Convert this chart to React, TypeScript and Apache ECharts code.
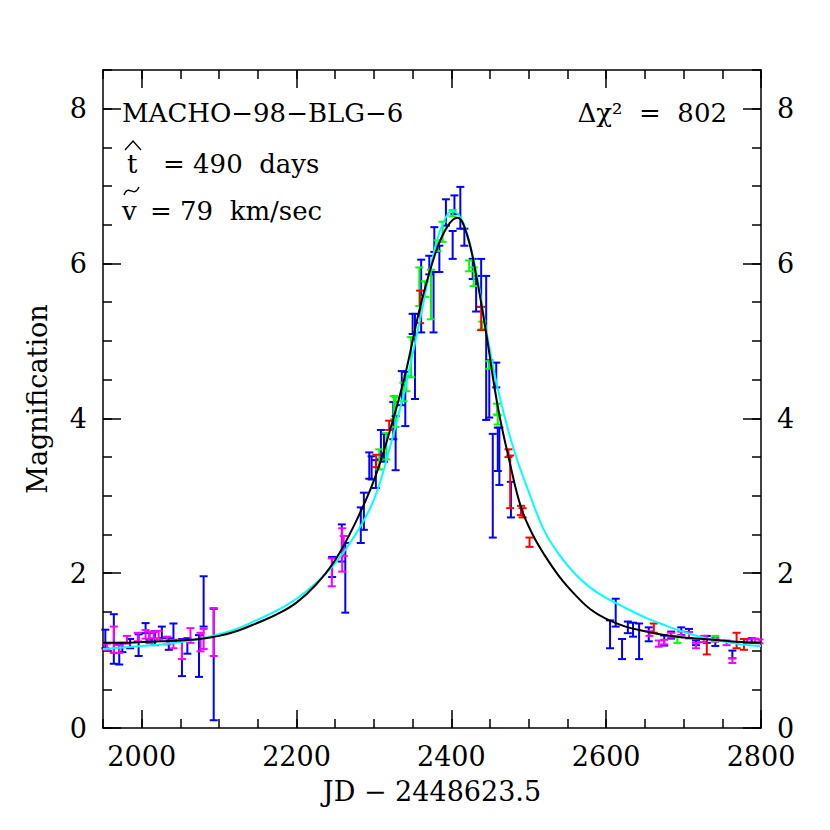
import React, { useEffect, useRef } from "react";
import * as echarts from "echarts";

const FONT = '"DejaVu Serif", serif';

const xMajorTicks = [2000, 2200, 2400, 2600, 2800];
const yMajorTicks = [0, 2, 4, 6, 8];

// [JD, magnification, error]
const blueBars = [
  [1953, 1.15, 0.12], [1964, 1.15, 0.32], [1971, 0.95, 0.13], [1975, 1.04, 0.06],
  [1985, 1.09, 0.06], [1996, 1.07, 0.14], [2005, 1.29, 0.065], [2010, 1.185, 0.045],
  [2017, 1.16, 0.09], [2026, 1.235, 0.075], [2035, 1.085, 0.075], [2041, 1.235, 0.115],
  [2052, 0.91, 0.24], [2059, 1.06, 0.1], [2074, 0.93, 0.27], [2080, 1.635, 0.325],
  [2093, 0.82, 0.72],
  [2246, 2.08, 0.13], [2258.5, 2.39, 0.24], [2263, 1.94, 0.45], [2283, 2.62, 0.23],
  [2287, 2.8, 0.24], [2294, 3.39, 0.17], [2297, 3.36, 0.15], [2302.5, 3.28, 0.18],
  [2309, 3.66, 0.19], [2313, 3.62, 0.18], [2325, 3.97, 0.24], [2328, 3.68, 0.35],
  [2336, 4.39, 0.22], [2340.5, 4.25, 0.35], [2350, 5.22, 0.13], [2353, 4.8, 0.55],
  [2361, 5.58, 0.47], [2371.5, 5.98, 0.12], [2377, 5.5, 0.39], [2378, 6.31, 0.16],
  [2384.5, 6.06, 0.17], [2393, 6.66, 0.17], [2401.7, 6.24, 0.18], [2404, 6.76, 0.12],
  [2411.6, 6.72, 0.27], [2416.8, 6.34, 0.11], [2427.6, 5.93, 0.13], [2432, 5.61, 0.23],
  [2438.5, 5.75, 0.31], [2445, 4.91, 0.93], [2449, 4.38, 0.37], [2453.5, 3.13, 0.67],
  [2458, 4.56, 0.16], [2460, 3.6, 0.28], [2462, 3.51, 0.37], [2477, 2.95, 0.23],
  [2605, 1.21, 0.18], [2612.3, 1.49, 0.18], [2620.5, 1.02, 0.13], [2628, 1.3, 0.075],
  [2634.7, 1.27, 0.09], [2642.5, 1.12, 0.23], [2655, 1.21, 0.09], [2675, 1.13, 0.065],
  [2684, 1.2, 0.045], [2697, 1.25, 0.05], [2707, 1.22, 0.06], [2716, 1.1, 0.03],
  [2730, 1.145, 0.045], [2741, 1.1, 0.04], [2763, 0.95, 0.05], [2788, 1.13, 0.03],
];

const magentaBars = [
  [1955, 1.05, 0.04], [1964, 1.14, 0.17], [1971, 1.02, 0.05], [1981, 1.14, 0.05],
  [1995, 1.175, 0.055], [2005, 1.21, 0.055], [2010, 1.17, 0.075], [2015.5, 1.2, 0.04],
  [2022, 1.2, 0.055], [2033, 1.13, 0.05], [2041, 1.085, 0.055], [2052, 1.015, 0.125],
  [2063, 1.195, 0.095], [2076, 1.11, 0.12], [2080, 1.15, 0.13], [2093, 1.24, 0.31],
  [2245.6, 2.01, 0.18], [2259, 2.3, 0.28], [2261, 2.35, 0.13],
  [2656, 1.22, 0.03], [2668, 1.09, 0.04], [2675, 1.11, 0.03], [2684, 1.2, 0.03],
  [2697, 1.22, 0.025], [2707, 1.2, 0.04], [2716, 1.065, 0.035], [2726, 1.15, 0.04],
  [2741, 1.14, 0.025], [2755.6, 1.1, 0.03], [2763, 0.87, 0.03], [2782, 1.12, 0.025],
  [2792, 1.13, 0.025], [2798, 1.12, 0.025],
];

const greenBars = [
  [2306.8, 3.47, 0.13], [2316, 3.64, 0.17], [2326, 4.14, 0.15], [2328, 4.08, 0.19],
  [2338, 4.34, 0.12], [2342, 4.45, 0.1], [2348, 4.79, 0.26], [2358.6, 5.7, 0.25],
  [2366, 5.67, 0.1], [2373.7, 5.6, 0.32], [2382, 6.23, 0.07], [2388.7, 6.41, 0.13],
  [2401.7, 6.65, 0.04], [2423, 5.97, 0.07], [2429, 5.83, 0.12], [2440, 5.2, 0.05],
  [2449, 4.69, 0.05], [2459, 4.12, 0.07], [2460, 3.98, 0.06],
  [2692, 1.145, 0.045], [2741, 1.155, 0.035],
];

const redBars = [
  [2303, 3.45, 0.08], [2319.7, 3.91, 0.06], [2359.5, 5.44, 0.21], [2438.5, 5.29, 0.15],
  [2473.8, 3.55, 0.05], [2476, 3.18, 0.34], [2490, 2.81, 0.06], [2492, 2.78, 0.06],
  [2501, 2.4, 0.06], [2661.5, 1.29, 0.06], [2730, 1.05, 0.1], [2768.5, 1.13, 0.1],
  [2778, 1.08, 0.07],
];

const parallaxFit = [
  [1950, 1.1], [1975, 1.1], [2000, 1.11], [2025, 1.12], [2050, 1.13], [2075, 1.15],
  [2100, 1.19], [2125, 1.26], [2150, 1.36], [2175, 1.47], [2200, 1.62], [2225, 1.85],
  [2250, 2.17], [2275, 2.63], [2300, 3.2], [2320, 3.82], [2340, 4.55], [2360, 5.45],
  [2380, 6.15], [2395, 6.48], [2408, 6.59], [2420, 6.38], [2432, 5.85], [2445, 5.1],
  [2460, 4.15], [2475, 3.45], [2490, 2.85], [2505, 2.5], [2520, 2.24], [2540, 1.95],
  [2560, 1.72], [2580, 1.53], [2600, 1.41], [2625, 1.31], [2650, 1.25], [2675, 1.2],
  [2700, 1.17], [2725, 1.15], [2750, 1.13], [2775, 1.11], [2800, 1.1],
];

const standardFit = [
  [1950, 1.02], [1975, 1.04], [2000, 1.06], [2025, 1.08], [2050, 1.11], [2075, 1.15],
  [2100, 1.21], [2125, 1.29], [2150, 1.4], [2175, 1.52], [2200, 1.67], [2225, 1.87],
  [2250, 2.13], [2275, 2.48], [2300, 2.95], [2320, 3.6], [2340, 4.38], [2360, 5.3],
  [2380, 6.25], [2392, 6.58], [2401, 6.68], [2410, 6.62], [2420, 6.4], [2432, 5.9],
  [2445, 5.15], [2460, 4.38], [2480, 3.62], [2500, 3.05], [2520, 2.55], [2540, 2.23],
  [2560, 1.99], [2580, 1.81], [2600, 1.68], [2625, 1.55], [2650, 1.43], [2675, 1.33],
  [2700, 1.24], [2725, 1.17], [2750, 1.12], [2775, 1.08], [2800, 1.06],
];

function errorSeries(data: number[][], color: string) {
  return {
    type: "custom",
    xAxisIndex: 0,
    yAxisIndex: 0,
    data,
    encode: { x: 0, y: 1 },
    renderItem: (params: any, api: any) => {
      const x = api.value(0);
      const y = api.value(1);
      const e = api.value(2);
      const top = api.coord([x, y + e]);
      const bot = api.coord([x, y - e]);
      const hw = 4;
      const style = { stroke: color, lineWidth: 2 };
      return {
        type: "group",
        children: [
          { type: "line", shape: { x1: top[0], y1: top[1], x2: bot[0], y2: bot[1] }, style },
          { type: "line", shape: { x1: top[0] - hw, y1: top[1], x2: top[0] + hw, y2: top[1] }, style },
          { type: "line", shape: { x1: bot[0] - hw, y1: bot[1], x2: bot[0] + hw, y2: bot[1] }, style },
        ],
      };
    },
  };
}

const labelStyle = { fontFamily: FONT, fontSize: 27, color: "#000" };
const axisLineStyle = { color: "#000", width: 1.5 };
const plain = (v: number) => String(v);

function xAxisDef(position: "top" | "bottom", major: boolean) {
  return {
    type: "value",
    min: 1950,
    max: 2800,
    position,
    ...(major ? {} : { interval: 50 }),
    axisLine: { show: major, onZero: false, lineStyle: axisLineStyle },
    axisTick: major
      ? { show: true, inside: true, length: 18, customValues: xMajorTicks, lineStyle: axisLineStyle }
      : { show: true, inside: true, length: 9, lineStyle: axisLineStyle },
    axisLabel:
      major && position === "bottom"
        ? { show: true, customValues: xMajorTicks, margin: 15, formatter: plain, ...labelStyle }
        : { show: false },
    splitLine: { show: false },
    ...(major && position === "bottom"
      ? {
          name: "JD − 2448623.5",
          nameLocation: "middle",
          nameGap: 50,
          nameTextStyle: { fontFamily: FONT, fontSize: 27, color: "#000" },
        }
      : {}),
  };
}

function yAxisDef(position: "left" | "right", major: boolean) {
  return {
    type: "value",
    min: 0,
    max: 8.5,
    position,
    ...(major ? {} : { interval: 0.5 }),
    axisLine: { show: major, onZero: false, lineStyle: axisLineStyle },
    axisTick: major
      ? { show: true, inside: true, length: 18, customValues: yMajorTicks, lineStyle: axisLineStyle }
      : { show: true, inside: true, length: 9, lineStyle: axisLineStyle },
    axisLabel: major
      ? { show: true, customValues: yMajorTicks, margin: 16, formatter: plain, ...labelStyle }
      : { show: false },
    splitLine: { show: false },
    ...(major && position === "left"
      ? {
          name: "Magnification",
          nameLocation: "middle",
          nameGap: 52,
          nameRotate: 90,
          nameTextStyle: { fontFamily: FONT, fontSize: 27, color: "#000" },
        }
      : {}),
  };
}

export default function App() {
  const ref = useRef<HTMLDivElement>(null);
  useEffect(() => {
    if (!ref.current) return;
    const chart = echarts.init(ref.current, null, { renderer: "svg" });
    const textStyle = (text: string, align = "left") => ({
      text,
      fontFamily: FONT,
      fontSize: 26,
      fill: "#000",
      align,
      verticalAlign: "middle",
    });
    chart.setOption({
      animation: false,
      backgroundColor: "#fff",
      grid: { left: 103, right: 69, top: 70, bottom: 102, containLabel: false },
      xAxis: [
        xAxisDef("bottom", true),
        xAxisDef("bottom", false),
        xAxisDef("top", true),
        xAxisDef("top", false),
      ],
      yAxis: [
        yAxisDef("left", true),
        yAxisDef("left", false),
        yAxisDef("right", true),
        yAxisDef("right", false),
      ],
      series: [
        errorSeries(blueBars, "#0000ff"),
        errorSeries(magentaBars, "#ff00ff"),
        errorSeries(greenBars, "#00ff00"),
        errorSeries(redBars, "#ff0000"),
        {
          type: "line",
          data: standardFit,
          smooth: 0.4,
          showSymbol: false,
          symbol: "none",
          lineStyle: { color: "#00ffff", width: 2 },
        },
        {
          type: "line",
          data: parallaxFit,
          smooth: 0.4,
          showSymbol: false,
          symbol: "none",
          lineStyle: { color: "#000000", width: 2 },
        },
      ],
      graphic: [
        { type: "text", x: 122, y: 113, style: textStyle("MACHO−98−BLG−6") },
        { type: "text", x: 127, y: 164, style: textStyle("t") },
        {
          type: "polyline",
          shape: { points: [[125, 150], [133, 141], [141, 150]] },
          style: { stroke: "#000", lineWidth: 1.3, fill: null },
        },
        { type: "text", x: 163, y: 164, style: textStyle("= 490  days") },
        { type: "text", x: 122, y: 211, style: textStyle("v") },
        {
          type: "bezierCurve",
          shape: { x1: 124, y1: 195, cpx1: 129, cpy1: 183, cpx2: 133, cpy2: 199, x2: 139, y2: 187 },
          style: { stroke: "#000", lineWidth: 1.4, fill: null },
        },
        { type: "text", x: 150, y: 211, style: textStyle("= 79  km/sec") },
        { type: "text", x: 727, y: 113, style: textStyle("Δχ²  =  802", "right") },
      ],
    });
    return () => chart.dispose();
  }, []);
  return (
    <div
      ref={ref}
      style={{ position: "fixed", left: 0, top: 0, width: 830, height: 830, background: "#fff" }}
    />
  );
}
